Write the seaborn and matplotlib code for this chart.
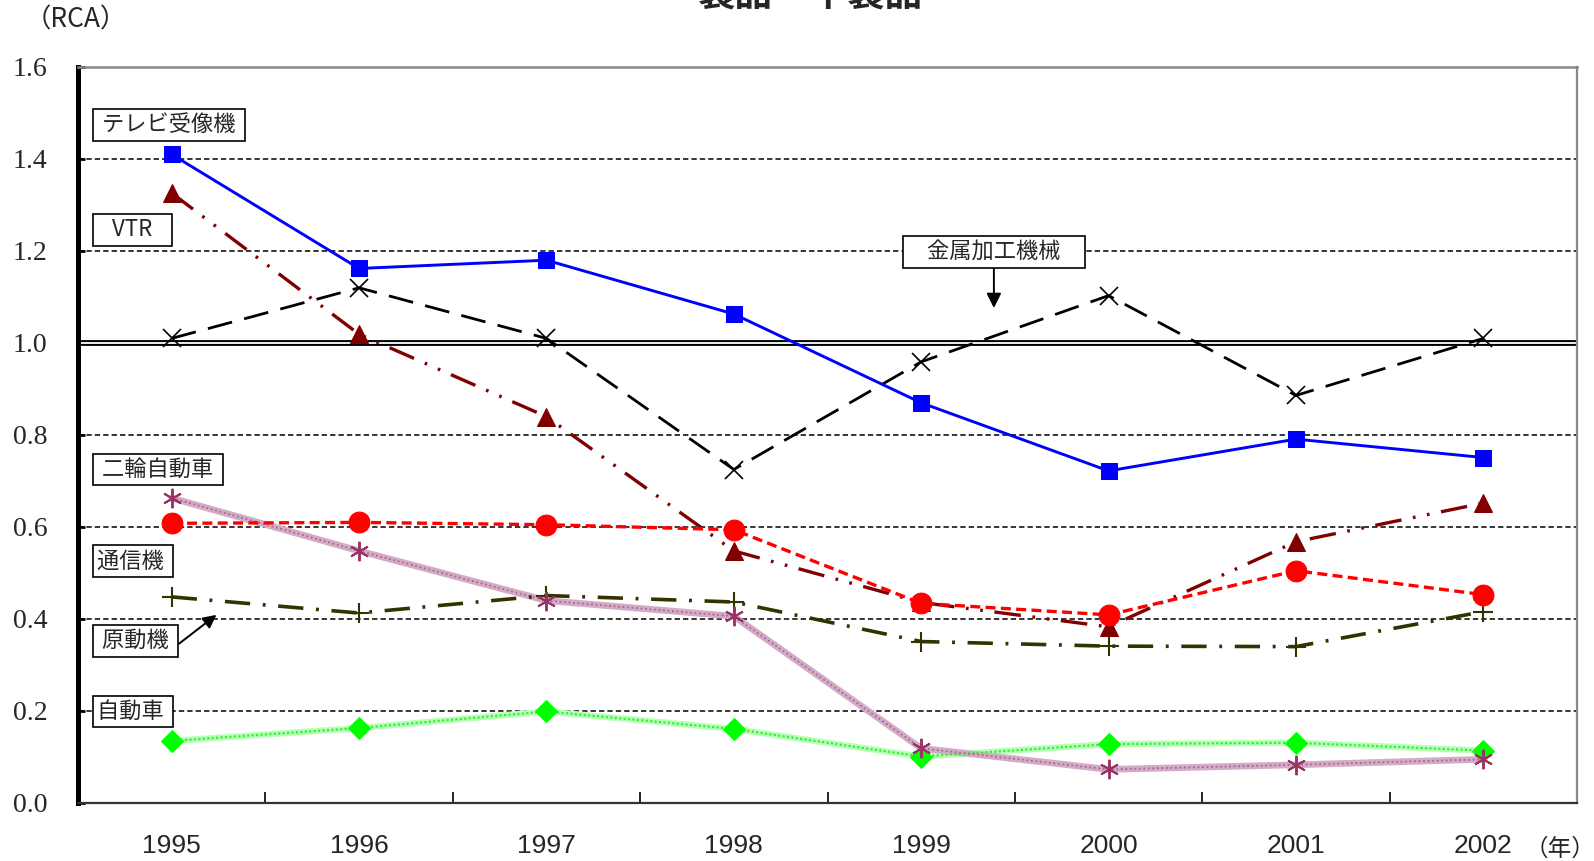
import pandas as pd
import seaborn as sns
import matplotlib.pyplot as plt
from matplotlib.ticker import FixedLocator

# values (RCA index)
years = ['1995', '1996', '1997', '1998', '1999', '2000', '2001', '2002']
tv = [1.410, 1.162, 1.180, 1.063, 0.870, 0.722, 0.791, 0.751]
vtr = [1.326, 1.019, 0.840, 0.548, 0.436, 0.383, 0.568, 0.652]
metal = [1.010, 1.120, 1.010, 0.725, 0.959, 1.103, 0.886, 1.010]
moto = [0.663, 0.548, 0.440, 0.406, 0.119, 0.073, 0.083, 0.095]
comm = [0.608, 0.610, 0.605, 0.594, 0.434, 0.409, 0.505, 0.453]
engine = [0.448, 0.413, 0.451, 0.437, 0.351, 0.341, 0.340, 0.416]
car = [0.135, 0.163, 0.199, 0.161, 0.101, 0.128, 0.131, 0.114]

sns.set_style("white")
plt.rcParams['font.family'] = ['Noto Sans CJK JP', 'DejaVu Sans']

fig = plt.figure(figsize=(15.94, 8.61), dpi=100)
ax = fig.add_axes([78 / 1594, 1 - 803 / 861, (1577 - 78) / 1594, (803 - 67) / 861])

pos = list(range(len(years)))

# grid lines first
for g in [0.2, 0.4, 0.6, 0.8, 1.2, 1.4]:
    ax.axhline(g, color='black', lw=1.1, ls=(0, (3.5, 2)), zorder=1)
ax.axhline(1.0, color='black', lw=4.2, zorder=1)
ax.axhline(1.0, color='white', lw=1.3, zorder=1)

# ---------------------------------------
# series
# ---------------------------------------
# 自動車 : textured light green line
sns.lineplot(x=pos, y=car, ax=ax, color='#b8ffb8', lw=4.5, zorder=2)
sns.lineplot(x=pos, y=car, ax=ax, color='#33ee33', lw=1.6, ls=(0, (1, 1)),
             marker='D', markersize=11, markerfacecolor='#00ff00',
             markeredgecolor='#00ff00', zorder=3)

# 二輪自動車 : textured pink line
sns.lineplot(x=pos, y=moto, ax=ax, color='#d4abc6', lw=4.8, zorder=2)
sns.lineplot(x=pos, y=moto, ax=ax, color='#a86690', lw=1.3, ls=(0, (1, 1.5)),
             zorder=3)
sns.lineplot(x=pos, y=moto, ax=ax, color='#993366', lw=0, marker=(6, 2, 0),
             markersize=14, markeredgewidth=1.4, markeredgecolor='#993366',
             zorder=4)

# 原動機
sns.lineplot(x=pos, y=engine, ax=ax, color='#333300', lw=2.6,
             ls=(0, (7, 3.5, 0.8, 3.5)), marker='+', markersize=15,
             markeredgewidth=1.5, markeredgecolor='#333300', zorder=3)

# 通信機
sns.lineplot(x=pos, y=comm, ax=ax, color='#ff0000', lw=2.4,
             ls=(0, (3, 1.6)), marker='o', markersize=15,
             markeredgecolor='#ff0000', zorder=4)

# VTR
sns.lineplot(x=pos, y=vtr, ax=ax, color='#800000', lw=2.4,
             ls=(0, (8, 3.5, 0.8, 3.5, 0.8, 3.5)), marker='^', markersize=13,
             markeredgecolor='#800000', zorder=3)

# 金属加工機械
sns.lineplot(x=pos, y=metal, ax=ax, color='black', lw=2.0,
             ls=(0, (9, 4.5)), marker='x', markersize=13,
             markeredgewidth=1.2, markeredgecolor='black', zorder=3)

# テレビ受像機
sns.lineplot(x=pos, y=tv, ax=ax, color='#0000ff', lw=2.1, marker='s',
             markersize=12, markeredgecolor='#0000ff', zorder=5)

# ---------------------------------------
# axes styling
# ---------------------------------------
ax.set_xlim(-0.5, len(years) - 0.5)
ax.set_ylim(0, 1.6)
ax.set_xlabel('')
ax.set_ylabel('')

ax.xaxis.set_major_locator(FixedLocator(pos))
ax.set_xticklabels(years, family='Liberation Sans', fontsize=19)
ax.xaxis.set_minor_locator(FixedLocator([p + 0.5 for p in pos[:-1]]))
ax.tick_params(axis='x', which='major', length=0, pad=22)
ax.tick_params(axis='x', which='minor', direction='in', length=8, width=1.2,
               color='black', bottom=True)

ax.set_yticks([0.0, 0.2, 0.4, 0.6, 0.8, 1.0, 1.2, 1.4, 1.6])
ax.set_yticklabels(['0.0', '0.2', '0.4', '0.6', '0.8', '1.0', '1.2', '1.4', '1.6'],
                   family='Liberation Serif', fontsize=20)
ax.tick_params(axis='y', direction='in', length=5, width=2, pad=22,
               left=True, color='black')

ax.spines['left'].set_linewidth(3.6)
ax.spines['left'].set_color('black')
ax.spines['bottom'].set_linewidth(1.6)
ax.spines['bottom'].set_color('#333333')
ax.spines['right'].set_linewidth(1.6)
ax.spines['right'].set_color('#888888')
ax.spines['top'].set_linewidth(1.8)
ax.spines['top'].set_color('#888888')

# ---------------------------------------
# series labels
# ---------------------------------------
box = dict(boxstyle='square,pad=0.2', fc='white', ec='black', lw=1.2)
lx = -0.397
fs = 16
ax.text(lx, 1.474, ' テレビ受像機 ', fontsize=fs, ha='left', va='center', bbox=box, zorder=6)
ax.text(lx, 1.246, '   VTR   ', fontsize=fs, ha='left', va='center', bbox=box, zorder=6)
ax.text(lx, 0.725, ' 二輪自動車 ', fontsize=fs, ha='left', va='center', bbox=box, zorder=6)
ax.text(lx, 0.526, '通信機 ', fontsize=fs, ha='left', va='center', bbox=box, zorder=6)
ax.text(lx, 0.199, '自動車 ', fontsize=fs, ha='left', va='center', bbox=box, zorder=6)

ax.annotate(' 原動機 ', xy=(0.239, 0.409), xytext=(lx, 0.353), fontsize=fs,
            ha='left', va='center', bbox=box, zorder=6,
            arrowprops=dict(arrowstyle='-|>', color='black', lw=1.4,
                            mutation_scale=20, relpos=(1, 0.2), shrinkA=0, shrinkB=0))
ax.annotate('    金属加工機械    ', xy=(4.388, 1.076), xytext=(4.388, 1.198), fontsize=fs,
            ha='center', va='center', bbox=box, zorder=6,
            arrowprops=dict(arrowstyle='-|>', color='black', lw=1.4,
                            mutation_scale=22, relpos=(0.5, 0), shrinkA=0, shrinkB=0))

# ---------------------------------------
# outer texts
# ---------------------------------------
fig.text(76 / 1594, 1 - 20 / 861, '（RCA）', fontsize=19, ha='center', va='center')
fig.text(1560 / 1594, 1 - 849 / 861, '（年）', fontsize=17, ha='center', va='center')
fig.text(810 / 1594, 1 - 14 / 861, '製品・半製品', fontsize=27, fontweight='bold',
         ha='center', va='bottom')

fig.savefig('out.png', dpi=100)
